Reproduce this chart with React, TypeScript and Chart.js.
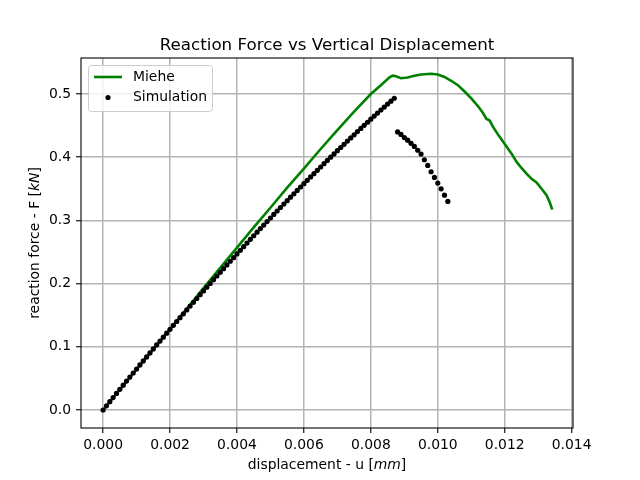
import React, { useEffect, useRef } from "react";
import { Chart, registerables } from "chart.js";

Chart.register(...registerables);

const TITLE = "Reaction Force vs Vertical Displacement";
const X_LABEL_PARTS: [string, boolean][] = [["displacement - u [", false], ["mm", true], ["]", false]];
const Y_LABEL_PARTS: [string, boolean][] = [["reaction force - F [", false], ["kN", true], ["]", false]];
const LEGEND_LABELS = ["Miehe", "Simulation"];

const xTicks = [0, 0.002, 0.004, 0.006, 0.008, 0.01, 0.012, 0.014];
const yTicks = [0, 0.1, 0.2, 0.3, 0.4, 0.5];

// Miehe reference curve (displacement in mm, force in kN)
const mieheDisp = [
  0, 0.0005, 0.001, 0.0015, 0.002, 0.0025, 0.003, 0.0035, 0.004, 0.0045,
  0.005, 0.0055, 0.006, 0.0065, 0.007, 0.0075, 0.008, 0.0083, 0.00855, 0.00865,
  0.00875, 0.0089, 0.0091, 0.0093, 0.0095, 0.0098, 0.01, 0.0102, 0.0104, 0.0106,
  0.0108, 0.011, 0.0112, 0.01135, 0.01145, 0.01155, 0.01165, 0.0118, 0.012, 0.0122,
  0.01235, 0.0125, 0.01265, 0.0128, 0.01295, 0.0131, 0.01325, 0.01335, 0.01342,
];
const mieheForce = [
  0, 0.032, 0.064, 0.096, 0.128, 0.16, 0.193, 0.225, 0.257, 0.289,
  0.32, 0.352, 0.382, 0.413, 0.443, 0.472, 0.5, 0.514, 0.526, 0.529,
  0.528, 0.525, 0.526, 0.529, 0.531, 0.532, 0.531, 0.527, 0.521, 0.514,
  0.504, 0.493, 0.481, 0.47, 0.461, 0.458, 0.448, 0.436, 0.421, 0.406,
  0.393, 0.383, 0.374, 0.366, 0.36, 0.35, 0.34, 0.328, 0.317,
];

// Simulation points
const simDisp = [
  0, 0.0001, 0.0002, 0.0003, 0.0004, 0.0005, 0.0006, 0.0007, 0.0008, 0.0009,
  0.001, 0.0011, 0.0012, 0.0013, 0.0014, 0.0015, 0.0016, 0.0017, 0.0018, 0.0019,
  0.002, 0.0021, 0.0022, 0.0023, 0.0024, 0.0025, 0.0026, 0.0027, 0.0028, 0.0029,
  0.003, 0.0031, 0.0032, 0.0033, 0.0034, 0.0035, 0.0036, 0.0037, 0.0038, 0.0039,
  0.004, 0.0041, 0.0042, 0.0043, 0.0044, 0.0045, 0.0046, 0.0047, 0.0048, 0.0049,
  0.005, 0.0051, 0.0052, 0.0053, 0.0054, 0.0055, 0.0056, 0.0057, 0.0058, 0.0059,
  0.006, 0.0061, 0.0062, 0.0063, 0.0064, 0.0065, 0.0066, 0.0067, 0.0068, 0.0069,
  0.007, 0.0071, 0.0072, 0.0073, 0.0074, 0.0075, 0.0076, 0.0077, 0.0078, 0.0079,
  0.008, 0.0081, 0.0082, 0.0083, 0.0084, 0.0085, 0.0086, 0.0087,
  0.0088, 0.0089, 0.009, 0.0091, 0.0092, 0.0093, 0.0094, 0.0095, 0.0096, 0.0097,
  0.0098, 0.0099, 0.01, 0.0101, 0.0102, 0.0103,
];
const simForce = [
  0, 0.0066, 0.0132, 0.0197, 0.0262, 0.0327, 0.0392, 0.0457, 0.0521, 0.0585,
  0.0649, 0.0713, 0.0777, 0.084, 0.0903, 0.0966, 0.1029, 0.1091, 0.1153, 0.1215,
  0.1277, 0.1339, 0.14, 0.1461, 0.1522, 0.1583, 0.1644, 0.1704, 0.1764, 0.1824,
  0.1884, 0.1943, 0.2002, 0.2062, 0.212, 0.2179, 0.2237, 0.2296, 0.2354, 0.2411,
  0.2469, 0.2527, 0.2585, 0.2642, 0.27, 0.2757, 0.2814, 0.287, 0.2926, 0.2982,
  0.3038, 0.3094, 0.3149, 0.3204, 0.3259, 0.3313, 0.3367, 0.3421, 0.3475, 0.3529,
  0.3582, 0.3635, 0.3688, 0.374, 0.3793, 0.3845, 0.3897, 0.3949, 0.4, 0.4052,
  0.4103, 0.4154, 0.4204, 0.4255, 0.4305, 0.4355, 0.4405, 0.4455, 0.4504, 0.4553,
  0.4602, 0.4651, 0.4699, 0.4747, 0.4794, 0.4841, 0.4887, 0.4933,
  0.44, 0.436, 0.431, 0.427, 0.422, 0.417, 0.411, 0.405, 0.396, 0.387,
  0.377, 0.368, 0.359, 0.35, 0.34, 0.33,
];

const FONT = "'DejaVu Sans', sans-serif";
const GREEN = "#008000";

function drawParts(ctx: CanvasRenderingContext2D, parts: [string, boolean][], cx: number, cy: number, size: number) {
  const widths = parts.map(([t, it]) => {
    ctx.font = `${it ? "italic " : ""}${size}px ${FONT}`;
    return ctx.measureText(t).width;
  });
  const total = widths.reduce((a, b) => a + b, 0);
  let x = cx - total / 2;
  ctx.textAlign = "left";
  ctx.textBaseline = "middle";
  parts.forEach(([t, it], i) => {
    ctx.font = `${it ? "italic " : ""}${size}px ${FONT}`;
    ctx.fillText(t, x, cy);
    x += widths[i];
  });
}

export default function App() {
  const ref = useRef<HTMLCanvasElement>(null);

  useEffect(() => {
    const canvas = ref.current;
    if (!canvas) return;

    const overlay = {
      id: "overlay",
      afterDatasetsDraw(chart: any) {
        const { ctx, chartArea: a } = chart;
        ctx.save();
        ctx.strokeStyle = "#000";
        ctx.lineWidth = 1.1;
        ctx.strokeRect(a.left, a.top, a.right - a.left, a.bottom - a.top);
        ctx.restore();
      },
      afterDraw(chart: any) {
        const { ctx, chartArea: a } = chart;
        const cx = (a.left + a.right) / 2;
        const cy = (a.top + a.bottom) / 2;
        ctx.save();
        ctx.fillStyle = "#000";
        // title
        ctx.font = `16.7px ${FONT}`;
        ctx.textAlign = "center";
        ctx.textBaseline = "alphabetic";
        ctx.fillText(TITLE, cx, 50);
        // x label
        drawParts(ctx, X_LABEL_PARTS, cx, 465, 13.9);
        // y label
        ctx.save();
        ctx.translate(35, cy);
        ctx.rotate(-Math.PI / 2);
        drawParts(ctx, Y_LABEL_PARTS, 0, 0, 13.9);
        ctx.restore();

        // legend
        const lx = a.left + 7, ly = a.top + 7, lw = 124, lh = 46;
        ctx.beginPath();
        if ((ctx as any).roundRect) (ctx as any).roundRect(lx + 0.5, ly + 0.5, lw, lh, 3);
        else ctx.rect(lx + 0.5, ly + 0.5, lw, lh);
        ctx.fillStyle = "rgba(255,255,255,0.8)";
        ctx.fill();
        ctx.strokeStyle = "#cccccc";
        ctx.lineWidth = 1;
        ctx.stroke();

        const r1 = ly + 12, r2 = ly + 32.5;
        ctx.beginPath();
        ctx.moveTo(lx + 6, r1);
        ctx.lineTo(lx + 34, r1);
        ctx.strokeStyle = GREEN;
        ctx.lineWidth = 2.6;
        ctx.stroke();
        ctx.beginPath();
        ctx.arc(lx + 20, r2, 2.6, 0, Math.PI * 2);
        ctx.fillStyle = "#000";
        ctx.fill();
        ctx.font = `13.9px ${FONT}`;
        ctx.textAlign = "left";
        ctx.textBaseline = "middle";
        ctx.fillText(LEGEND_LABELS[0], lx + 45, r1);
        ctx.fillText(LEGEND_LABELS[1], lx + 45, r2);
        ctx.restore();
      },
    };

    const tickFont = { family: FONT, size: 13.9 };
    const grid = {
      color: "#b4b4b4",
      lineWidth: 1.5,
      drawTicks: true,
      tickLength: 5,
      tickColor: "#000",
      tickWidth: 1.1,
    };

    const chart = new Chart(canvas, {
      type: "scatter",
      data: {
        datasets: [
          {
            label: LEGEND_LABELS[1],
            data: simDisp.map((x, i) => ({ x, y: simForce[i] })),
            backgroundColor: "#000",
            borderColor: "#000",
            pointRadius: 2.6,
            pointBorderWidth: 0,
            showLine: false,
            order: 0,
          },
          {
            label: LEGEND_LABELS[0],
            data: mieheDisp.map((x, i) => ({ x, y: mieheForce[i] })),
            borderColor: GREEN,
            backgroundColor: GREEN,
            borderWidth: 2.6,
            pointRadius: 0,
            showLine: true,
            tension: 0,
            order: 1,
          },
        ],
      },
      options: {
        animation: false,
        responsive: false,
        devicePixelRatio: 1,
        events: [],
        layout: { padding: { top: 58, right: 67, left: 0, bottom: 0 } },
        plugins: {
          legend: { display: false },
          title: { display: false },
          tooltip: { enabled: false },
        },
        scales: {
          x: {
            type: "linear",
            min: -0.00066,
            max: 0.01404,
            afterBuildTicks: (s: any) => {
              s.ticks = xTicks.map((v) => ({ value: v }));
            },
            afterFit: (s: any) => {
              s.height = 52;
            },
            ticks: {
              callback: (v: any) => Number(v).toFixed(3),
              font: tickFont,
              color: "#000",
              padding: 4,
              maxRotation: 0,
              autoSkip: false,
            },
            grid,
            border: { display: false },
          },
          y: {
            type: "linear",
            min: -0.0285,
            max: 0.557,
            afterBuildTicks: (s: any) => {
              s.ticks = yTicks.map((v) => ({ value: v }));
            },
            afterFit: (s: any) => {
              s.width = 81;
            },
            ticks: {
              callback: (v: any) => Number(v).toFixed(1),
              font: tickFont,
              color: "#000",
              padding: 5,
              autoSkip: false,
            },
            grid,
            border: { display: false },
          },
        },
      } as any,
      plugins: [overlay],
    });

    return () => chart.destroy();
  }, []);

  return (
    <div style={{ position: "absolute", left: 0, top: 0, width: 640, height: 480, background: "#fff" }}>
      <canvas ref={ref} width={640} height={480} style={{ display: "block" }} />
    </div>
  );
}
